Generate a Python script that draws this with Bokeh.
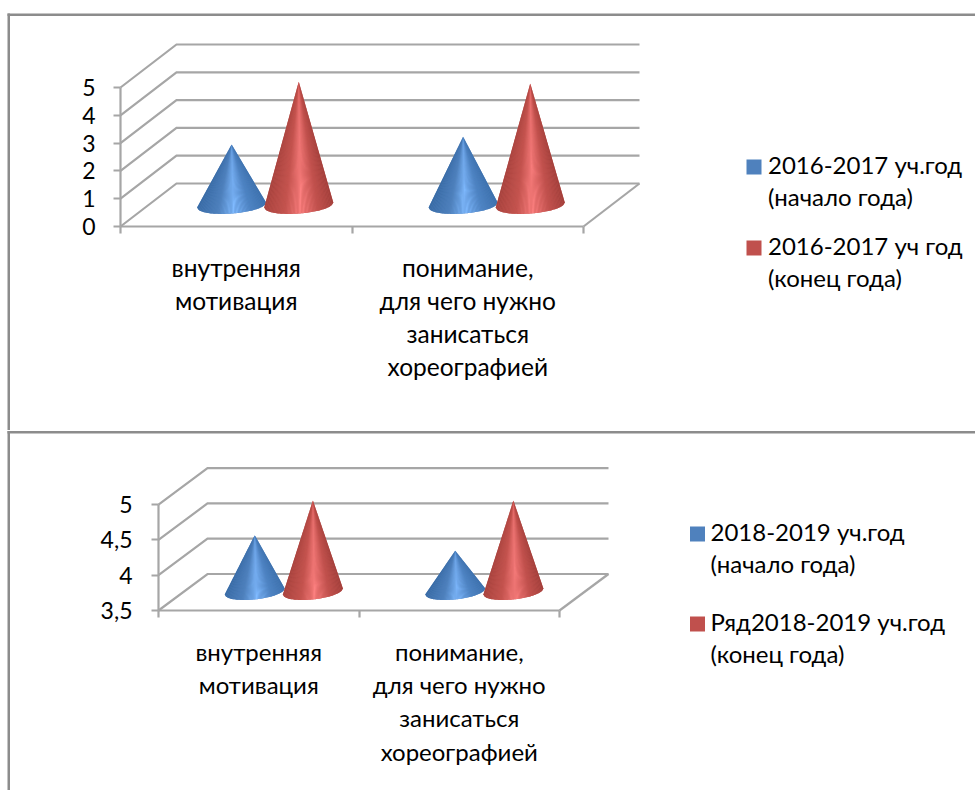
from bokeh.plotting import figure
from bokeh.models import FixedTicker, BoxAnnotation
from bokeh.core.properties import value
from bokeh.embed import file_html
from bokeh.resources import INLINE
import numpy as np

categories = ["внутренняя\nмотивация", "понимание,\nдля чего нужно\nзанисаться\nхореографией"]
top_start = [2.27, 2.55]
top_end = [4.53, 4.46]
bottom_start = [4.34, 4.12]
bottom_end = [4.83, 4.83]
top_ticks = [0, 1, 2, 3, 4, 5]
bottom_ticks = [3.5, 4, 4.5, 5]
bottom_tick_labels = {3.5: "3,5", 4: "4", 4.5: "4,5", 5: "5"}
top_legend = ["2016-2017 уч.год\n(начало года)", "2016-2017 уч год\n(конец года)"]
bottom_legend = ["2018-2019 уч.год\n(начало года)", "Ряд2018-2019 уч.год\n(конец года)"]

FONT = "Lato"
GRID = "#a6a6a6"
BORDER = "#8c8c8c"
BLUE = ["#3a6ca6", "#4f81bd", "#80baff", "#4f85c5", "#3e72ae"]
RED = ["#a8443f", "#c4544f", "#fc8080", "#c2524e", "#a3403c"]
STOPS = [-1, -0.4, 0.06, 0.55, 1]


def shade(ramp, u):
    rgb = [[int(c[i:i + 2], 16) for i in (1, 3, 5)] for c in ramp]
    return "#%02x%02x%02x" % tuple(int(np.interp(u, STOPS, [c[k] for c in rgb])) for k in range(3))


def cone(p, cx, base, top, hw, rise, b, ramp, n=50):
    us = np.linspace(-1, 1, n + 1)
    ts = 2 * np.pi - np.arccos(us)
    xs_base = cx + hw * np.cos(ts)
    ys_base = base + rise * (1 + np.cos(ts)) / 2 + b * np.sin(ts)
    p.patch([cx, *xs_base], [top, *ys_base], fill_color=ramp[1], line_color=None)
    xs, ys, cols = [], [], []
    for i in range(n):
        xs.append([cx, xs_base[i], xs_base[i + 1]])
        ys.append([top, ys_base[i], ys_base[i + 1]])
        cols.append(shade(ramp, (us[i] + us[i + 1]) / 2))
    p.patches(xs, ys, fill_color=cols, line_color=None)


def panel(w, h, left, bottom_px, ymin, ppu, catw, dx_px, dy_px, ticks, overrides, starts, ends,
          legend_labels, legend_sq_x, legend_sq_y, legend_text_dx, legend_font, hw_px, rise_px, b_px, border_top,
          label_font, line_h, standoff, y_standoff):
    frame_h = h - bottom_px
    p = figure(width=w, height=h, output_backend="svg", toolbar_location=None,
               x_range=(-left / catw, (w - left) / catw),
               y_range=(ymin - bottom_px / ppu, ymin + frame_h / ppu),
               min_border_left=0, min_border_bottom=0, min_border_top=0, min_border_right=0,
               outline_line_color=None, background_fill_color="white", border_fill_color="white")
    p.grid.visible = False
    dx, dy = dx_px / catw, dy_px / ppu
    ncat = len(categories)

    p.add_layout(BoxAnnotation(left=7, right=9.5, top=border_top, bottom=h, left_units="canvas", right_units="canvas",
                               top_units="canvas", bottom_units="canvas", fill_color=BORDER, fill_alpha=1,
                               line_color=None, level="underlay"))
    p.add_layout(BoxAnnotation(left=7, right=w, top=border_top, bottom=border_top + 2.5, left_units="canvas",
                               right_units="canvas", top_units="canvas", bottom_units="canvas",
                               fill_color=BORDER, fill_alpha=1, line_color=None, level="underlay"))

    xs, ys = [], []
    for v in ticks:
        xs.append([0, dx, ncat + dx])
        ys.append([v, v + dy, v + dy])
    xs.append([ncat, ncat + dx])
    ys.append([ymin, ymin + dy])
    p.multi_line(xs, ys, line_color=GRID, line_width=2.2, line_join="miter")

    ax = p.yaxis[0]
    ax.fixed_location = 0
    ax.ticker = FixedTicker(ticks=ticks)
    ax.bounds = (ymin, max(ticks))
    ax.major_label_overrides = overrides
    ax.major_tick_in = 0
    ax.major_tick_out = 7
    ax.minor_tick_out = 0
    ax.minor_tick_in = 0
    ax.major_label_standoff = y_standoff
    for a in (ax, p.xaxis[0]):
        a.axis_line_color = GRID
        a.axis_line_width = 2.2
        a.major_tick_line_color = GRID
        a.major_tick_line_width = 2.2
        a.major_label_text_color = "#000000"
        a.major_label_text_font = FONT
    ax.major_label_text_font_size = "23px"

    xa = p.xaxis[0]
    xa.fixed_location = ymin
    xa.ticker = FixedTicker(ticks=[i + 0.5 for i in range(ncat)], minor_ticks=list(range(ncat + 1)))
    xa.bounds = (0, ncat)
    xa.major_label_overrides = {i + 0.5: c for i, c in enumerate(categories)}
    xa.major_tick_in = 0
    xa.major_tick_out = 0
    xa.minor_tick_in = 0
    xa.minor_tick_out = 7
    xa.minor_tick_line_color = GRID
    xa.minor_tick_line_width = 2.2
    xa.major_label_standoff = standoff
    xa.major_label_text_font_size = label_font
    xa.major_label_text_line_height = line_h
    xa.major_label_orientation = "horizontal"

    base = ymin + 0.44 * dy
    hw = hw_px / catw
    for i in range(ncat):
        c = i + 0.5 + 0.125
        cone(p, c - 0.145, base, base + starts[i] - ymin, hw, rise_px / ppu, b_px / ppu, BLUE)
        cone(p, c + 0.145, base, base + ends[i] - ymin, hw, rise_px / ppu, b_px / ppu, RED)

    # legend: pixel offsets from the axes' origin, converted to data units
    sx = np.array([legend_sq_x, legend_sq_x]) / catw
    sy = ymin + (frame_h - np.array(legend_sq_y, dtype=float)) / ppu
    p.scatter(sx, sy, marker="square", size=15, fill_color=["#4f81bd", "#c0504d"], line_color=None)
    p.text(sx + legend_text_dx / catw, sy, text=legend_labels, text_font=value(FONT),
           text_font_size=legend_font, text_color="#000000", text_baseline="top", text_align="left",
           text_line_height=1.12, y_offset=-17)
    return p


p1 = panel(975, 430, 120, 204, 0, 27.8, 231.5, 56, 43, top_ticks, {}, top_start, top_end,
           top_legend, 633.5, [166.5, 247.5], 14, "24px", 34.5, 5, 8.5, 13, "24.5px", 1.14, 19, 18)
p2 = panel(975, 360, 158, 180, 3.5, 70.6, 200.5, 49, 36.5, bottom_ticks, bottom_tick_labels, bottom_start, bottom_end,
           bottom_legend, 539, [103.5, 193.5], 13, "24px", 30, 6, 8, 0.5, "24px", 1.15, 19, 19)

open("out.html", "w").write(file_html([p1, p2], INLINE))
